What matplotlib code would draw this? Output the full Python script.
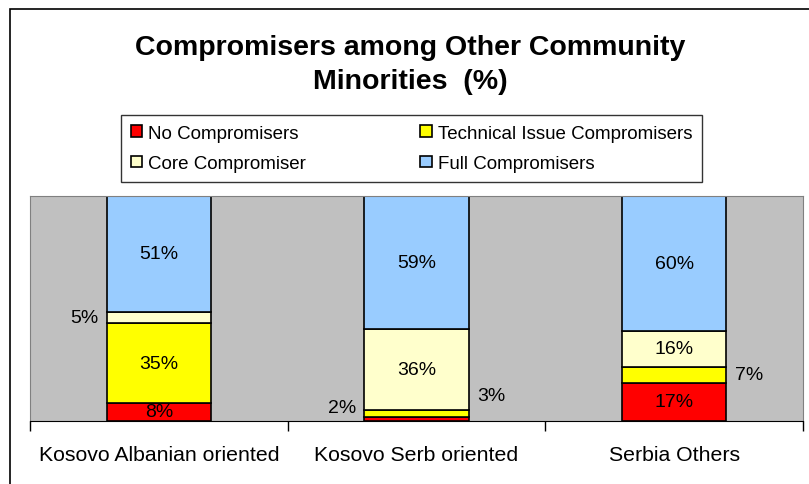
import matplotlib.pyplot as plt
import numpy as np
from matplotlib.patches import Rectangle

plt.rcParams["font.family"] = ["Liberation Sans", "DejaVu Sans"]

categories = ["Kosovo Albanian oriented", "Kosovo Serb oriented", "Serbia Others"]
series_names = ["No Compromisers", "Technical Issue Compromisers",
                "Core Compromiser", "Full Compromisers"]
no_compromisers = [8, 2, 17]
technical_issue = [35, 3, 7]
core_compromiser = [5, 36, 16]
full_compromisers = [51, 59, 60]

colors = ["#FF0000", "#FFFF00", "#FFFFCC", "#99CCFF"]

# label placement per (series, category): "in", "left" or "right"
label_side = [
    ["in", "left", "in"],
    ["in", "right", "right"],
    ["left", "in", "in"],
    ["in", "in", "in"],
]
# extra vertical offset in points for labels outside small segments
label_dy = [
    [0, 8, 0],
    [0, 12.5, 0],
    [0, 0, 0],
    [0, 0, 0],
]

values = np.array([no_compromisers, technical_issue, core_compromiser, full_compromisers], dtype=float)
shares = values / values.sum(axis=0) * 100

fig = plt.figure(figsize=(8.09, 4.85), dpi=100)
fig.patches.append(Rectangle((10 / 809, -0.1), 1.2, 1 - 10 / 485 + 0.1,
                             transform=fig.transFigure, fill=False,
                             edgecolor="black", linewidth=1.2))

ax = fig.add_axes([30 / 809, 63 / 485, 773 / 809, 225 / 485])
ax.set_facecolor("#C0C0C0")

x = np.arange(len(categories))
width = 0.404
bottom = np.zeros(len(categories))
for s in range(len(series_names)):
    ax.bar(x, shares[s], width, bottom=bottom, color=colors[s],
           edgecolor="black", linewidth=1.2, label=series_names[s], zorder=2)
    for c in range(len(categories)):
        mid = bottom[c] + shares[s, c] / 2
        text = f"{int(values[s, c])}%"
        side = label_side[s][c]
        if side == "in":
            ax.text(x[c], mid, text, ha="center", va="center", fontsize=14, zorder=3)
        elif side == "left":
            ax.annotate(text, (x[c] - width / 2, mid), xytext=(-6, label_dy[s][c]),
                        textcoords="offset points", ha="right", va="center", fontsize=14)
        else:
            ax.annotate(text, (x[c] + width / 2, mid), xytext=(6, label_dy[s][c]),
                        textcoords="offset points", ha="left", va="center", fontsize=14)
    bottom += shares[s]

ax.set_xlim(-0.5, len(categories) - 0.5)
ax.set_ylim(0, 100)
ax.set_yticks([])
ax.set_xticks(np.arange(-0.5, len(categories)), labels=[])
ax.set_xticks(x, labels=categories, minor=True)
ax.tick_params(axis="x", which="major", length=7, width=1, color="black", direction="out")
ax.tick_params(axis="x", which="minor", length=0, labelsize=15.3, pad=17)
for side in ["left", "top", "right"]:
    ax.spines[side].set_color("#808080")
ax.spines["bottom"].set_color("black")

fig.text(0.507, 0.865, "Compromisers among Other Community\nMinorities  (%)",
         ha="center", va="center", fontsize=20.5, fontweight="bold", linespacing=1.4)

handles, labels = ax.get_legend_handles_labels()
order = [0, 2, 1, 3]
leg = fig.legend([handles[i] for i in order], [labels[i] for i in order],
                 ncol=2, loc="upper left", bbox_to_anchor=(121 / 809, 1 - 116 / 485),
                 fontsize=13.5, frameon=True, fancybox=False, edgecolor="black",
                 handlelength=0.6, handleheight=0.6, handletextpad=0.32,
                 columnspacing=6.1, labelspacing=0.71, borderpad=0.52,
                 borderaxespad=0)
leg.get_frame().set_linewidth(1)

fig.savefig("out.png", dpi=100)
